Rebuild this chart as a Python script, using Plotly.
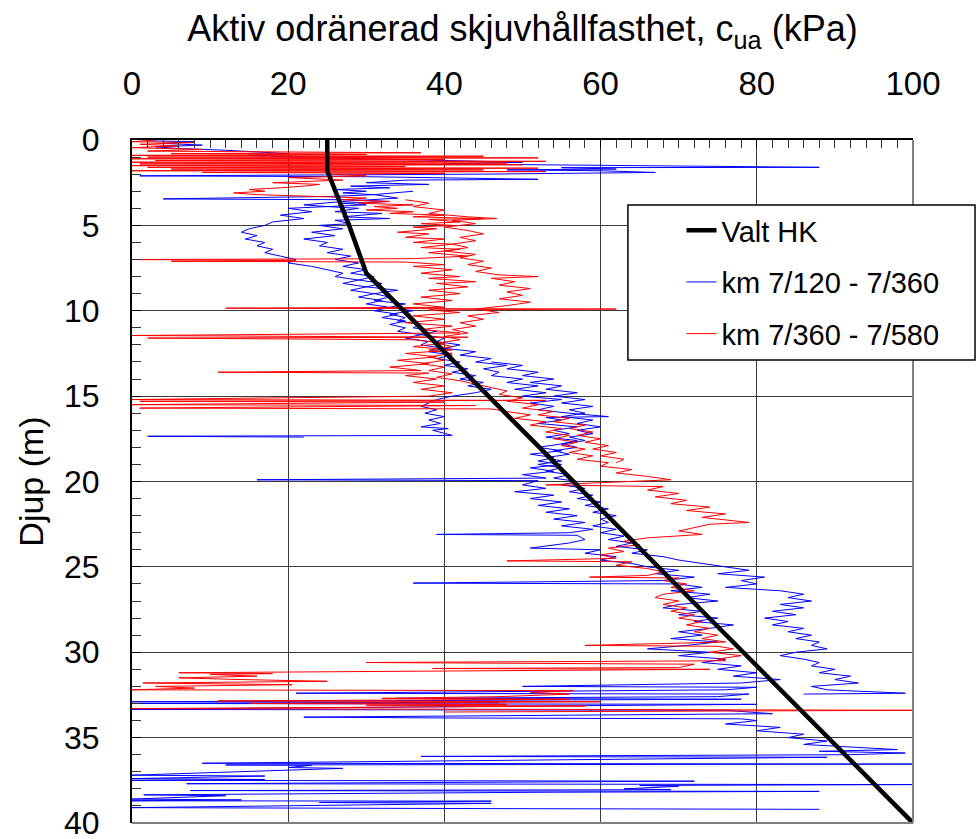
import plotly.graph_objects as go

# ---------------- data ----------------
# Chosen design line "Valt HK": depth (m) / c_ua (kPa)
hk_depth = [0, 1.8, 5.0, 7.8, 40]
hk_cua = [25, 25, 27.8, 30, 100]

# km 7/120 - 7/360 : three soundings, (depth m, c_ua kPa)
blue_a = [(0.05,2),(0.1,8),(0.2,4),(0.3,9),(0.4,3),(0.5,6),(0.6,12),(0.8,20),(0.9,15),(1.1,30),
          (1.3,50),(1.4,40),(1.6,88),(1.62,55),(1.7,62),(1.75,48),(1.8,60),(1.9,67),(2.0,45),(2.1,1),
          (2.15,30),(2.3,52),(2.35,35),(2.5,30),(2.6,38),(2.7,28),(2.8,33),(2.9,26),(3.0,30),(3.1,27),
          (3.2,31),(3.3,26),(3.45,4),(3.5,28),(3.6,33),(3.7,27),(3.8,30),(3.9,25),(4.0,29),(4.2,26),
          (4.3,32),(4.5,27),(4.6,33),(4.7,26),(4.9,28),(5.0,24),(5.2,27),(5.4,23),(5.6,26),(5.8,22),
          (6.0,25),(6.2,24),(6.4,27),(6.6,25),(6.8,28),(7.0,26),(7.2,29),(7.4,27),(7.6,30),(7.8,28),
          (8.0,31),(8.2,29),(8.4,32),(8.6,30),(8.8,34),(9.0,31),(9.2,33),(9.4,31),(9.6,35),(9.8,33),
          (10.0,36),(10.2,33),(10.4,35),(10.6,34),(10.8,37),(11.0,36),(11.2,39),(11.4,37),(11.6,40),(11.8,39),
          (12.0,42),(12.2,40),(12.4,44),(12.6,42),(12.8,46),(13.0,44),(13.2,48),(13.4,45),(13.6,47),(13.8,46),
          (14.0,50),(14.2,48),(14.4,52),(14.6,49),(14.8,53),(15.0,50),(15.2,55),(15.4,51),(15.6,54),(15.8,52),
          (16.0,56),(16.2,61),(16.25,53),(16.4,55),(16.6,52),(16.8,57),(17.0,54),(17.2,56),(17.4,53),(17.6,57),
          (17.8,55),(18.0,52),(18.2,55),(18.4,51),(18.6,54),(18.8,52),(19.0,55),(19.2,51),(19.4,54),(19.6,50),
          (19.8,53),(19.9,16),(19.95,52),(20.2,50),(20.4,53),(20.6,49),(20.8,54),(21.0,51),(21.2,55),(21.4,52),
          (21.6,56),(21.8,53),(22.0,57),(22.2,54),(22.4,58),(22.6,55),(22.8,59),(23.0,56),(23.1,39),(23.15,57),
          (23.4,58),(23.6,56),(23.9,51),(24.0,60),(24.2,58),(24.4,62),(24.6,60),(24.8,64),(25.0,66),(25.2,70),
          (25.4,67),(25.6,72),(25.8,68),(25.95,36),(26.0,70),(26.2,73),(26.4,69),(26.6,74),(26.8,71),(27.0,75),
          (27.2,70),(27.4,68),(27.6,73),(27.8,70),(28.0,75),(28.2,72),(28.4,77),(28.6,74),(28.8,70),(29.0,73),
          (29.2,69),(29.4,75),(29.6,71),(29.8,66),(30.0,74),(30.2,70),(30.4,76),(30.6,73),(30.8,78),(31.0,75),
          (31.2,80),(31.4,77),(31.6,83),(31.8,78),(32.0,50),(32.05,80),(32.2,76),(32.4,21),(32.45,79),(32.6,75),
          (32.7,34),(32.75,78),(32.9,0),(32.95,47),(33.0,0),(33.05,80),(33.3,10),(33.35,0),(33.4,76),(33.6,82),
          (33.8,22),(33.85,41),(33.9,78),(34.0,80),(34.2,76),(34.4,83),(34.6,80),(34.8,86),(35.0,84),(35.2,89),
          (35.4,86),(35.6,95),(35.7,98),(35.8,88),(35.9,99),(36.0,92),(36.1,37),(36.15,89),(36.5,9),(36.55,100),
          (36.6,12),(36.62,23),(36.75,20),(36.8,27),(37.2,0),(37.25,17),(37.4,0),(37.45,17),(37.5,0),(37.55,72),
          (37.7,7),(37.75,100),(37.8,65),(37.85,70),(38.0,63),(38.05,69),(38.1,7.5),(38.15,88),(38.2,52),(38.35,1.5),
          (38.4,12),(38.6,0),(38.65,14),(38.7,0),(38.72,46),(38.8,24),(38.85,46),(39.0,22),(39.1,0),(39.15,40),
          (39.2,88)]

blue_b = [(3.0,36),(3.2,31),(3.4,34),(3.6,27),(3.8,22),(3.9,25),(4.0,20),(4.2,23),(4.4,19),(4.6,22),
          (4.8,18),(5.0,17),(5.2,15),(5.4,14),(5.6,16),(5.8,14.5),(6.0,17),(6.2,16),(6.4,18),(6.6,17),
          (6.8,19),(7.0,21),(7.2,20),(7.4,23),(7.6,25),(7.8,27),(8.0,26),(8.2,29),(8.4,27),(8.6,30),
          (8.8,28),(9.0,31),(9.2,29),(9.4,32),(9.6,30),(9.8,33),(10.0,31),(10.2,34),(10.4,32),(10.6,35),
          (10.8,33),(11.0,35),(11.2,34),(11.4,37),(11.6,35),(11.8,38),(12.0,37),(12.2,40),(12.4,38),(12.6,41),
          (12.8,39),(13.0,42),(13.2,40),(13.4,43),(13.6,41),(13.8,44),(14.0,42),(14.2,45),(14.4,43),(14.6,46),
          (14.8,44),(15.0,41),(15.2,39),(15.4,38),(15.6,37),(15.8,39),(16.0,37.5),(16.2,40),(16.4,38),(16.6,39.5),
          (16.8,37),(16.9,40.5),(17.0,38.5),(17.3,41),(17.35,2),(17.4,22)]

blue_c = [(13.0,46),(13.2,50),(13.4,48),(13.6,52),(13.8,50),(14.0,54),(14.2,51),(14.4,55),(14.6,53),(14.8,57),
          (15.0,54),(15.2,58),(15.4,55),(15.6,59),(15.8,56),(16.0,58),(16.2,55),(16.4,59),(16.6,57),(16.8,60),
          (17.0,57),(17.2,59),(17.4,56),(17.6,58),(17.8,55),(18.0,57),(18.2,54),(18.4,56),(18.6,53),(18.8,55),
          (19.0,52),(19.2,55),(19.4,53),(19.6,56),(19.8,54),(20.0,57),(20.2,55),(20.4,58),(20.6,56),(20.8,59),
          (21.0,57),(21.2,60),(21.4,58),(21.6,61),(21.8,59),(22.0,62),(22.2,60),(22.4,61),(22.6,59),(22.8,62),
          (23.0,60),(23.2,63),(23.4,61),(23.6,64),(23.8,62),(24.0,66),(24.2,64),(24.4,68),(24.6,70),(24.8,73),
          (25.0,76),(25.2,79),(25.4,75),(25.6,81),(25.8,78),(26.0,80),(26.2,76),(26.4,83),(26.6,86),(26.8,84),
          (27.0,87),(27.2,83),(27.4,86),(27.6,82),(27.8,85),(28.0,81),(28.2,84),(28.4,82),(28.6,86),(28.8,84),
          (29.0,87),(29.2,85),(29.4,88),(29.6,87),(29.8,89),(30.0,85),(30.2,83),(30.4,86),(30.6,88),(30.8,87),
          (31.0,90),(31.2,88),(31.4,92),(31.6,90),(31.8,93),(32.0,87),(32.2,89),(32.4,99),(32.45,86)]

# km 7/360 - 7/580 : two soundings
red_a = [(0.0,3),(0.1,0),(0.15,8),(0.25,1),(0.35,6),(0.45,0),(0.55,9),(0.65,2),(0.75,37),(0.8,5),
         (0.85,30),(0.9,0),(0.95,45),(1.0,2),(1.05,52),(1.1,0),(1.15,40),(1.2,3),(1.25,53),(1.3,0),
         (1.35,48),(1.4,1),(1.45,50),(1.5,0),(1.55,35),(1.6,2),(1.65,52),(1.7,5),(1.75,45),(1.8,0),
         (1.85,53),(1.9,9),(1.95,40),(2.0,25),(2.1,30),(2.2,20),(2.35,27),(2.5,18),(2.6,24),(2.7,22),
         (2.8,19),(2.9,15),(3.0,17),(3.1,13),(3.2,16),(3.3,22),(3.4,30),(3.5,27),(3.6,33),(3.7,29),
         (3.8,36),(3.9,31),(4.0,34),(4.1,30),(4.2,36),(4.3,33),(4.4,40),(4.5,36),(4.6,45),(4.65,38),
         (4.8,42),(4.9,37),(5.0,41),(5.1,36),(5.2,39),(5.4,34),(5.5,38),(5.7,35),(5.8,40),(6.0,36),
         (6.1,41),(6.3,37),(6.4,42),(6.6,38),(6.8,43),(6.95,36),(7.0,0),(7.05,21),(7.1,5),(7.15,35),
         (7.3,40),(7.4,36),(7.6,41),(7.8,37),(8.0,42),(8.1,38),(8.3,44),(8.4,39),(8.6,43),(8.8,38),
         (9.0,42),(9.2,37),(9.4,41),(9.6,36),(9.8,40),(9.85,12),(9.9,62),(9.95,38),(10.1,42),(10.3,36),
         (10.5,40),(10.7,35),(10.9,41),(11.1,37),(11.3,42),(11.45,0),(11.5,28),(11.55,43),(11.6,2),(11.65,20),
         (11.7,36),(11.9,40),(12.1,36),(12.3,41),(12.5,35),(12.7,39),(12.9,34),(13.1,38),(13.3,33),(13.5,37),
         (13.6,11),(13.65,38),(13.8,35),(14.0,39),(14.2,36),(14.4,40),(14.6,37),(14.8,41),(15.0,38),(15.2,0),
         (15.25,53),(15.3,1),(15.35,40),(15.5,0),(15.55,44),(15.7,1),(15.75,46),(15.9,48),(16.1,51),(16.3,49),
         (16.5,53),(16.7,51),(16.9,55),(17.1,53),(17.3,56),(17.5,54),(17.7,57),(17.9,55),(18.1,58),(18.3,56),
         (18.5,59),(18.7,57),(18.9,61),(19.1,60),(19.3,64),(19.5,62),(19.7,66),(19.9,69),(20.0,64),(20.2,53),
         (20.3,68),(20.5,66),(20.7,70),(20.9,67),(21.1,71),(21.3,69),(21.5,74),(21.7,71),(21.9,76),(22.1,73),
         (22.3,77),(22.4,79),(22.5,74),(22.7,72),(22.9,70),(23.1,73),(23.3,66),(23.5,63),(23.7,65),(23.9,61),
         (24.1,63),(24.3,60),(24.5,62),(24.65,48),(24.7,64),(24.9,62),(25.1,66),(25.3,68),(25.5,66),(25.6,58.6),
         (25.65,70),(25.8,68),(26.0,71),(26.2,69),(26.4,72),(26.6,68),(26.8,67),(27.0,70),(27.2,68),(27.4,71),
         (27.6,69),(27.8,72),(28.0,70),(28.2,73),(28.4,71),(28.6,74),(28.8,72),(29.0,75),(29.2,73),(29.4,76),
         (29.6,58),(29.65,75),(29.8,77),(30.0,74),(30.2,78),(30.4,75),(30.5,76),(30.6,30),(30.7,72),(30.9,70),
         (30.95,38.5),(31.0,74),(31.15,21.5),(31.2,6),(31.25,18),(31.3,10),(31.4,16),(31.5,6),(31.6,14),(31.7,25),
         (31.8,1.4),(31.9,20.5),(32.0,3),(32.1,8),(32.2,0),(32.25,56.5),(32.35,51),(32.45,56),(32.6,47),(32.7,32),
         (32.75,56),(32.85,11),(32.9,60),(33.0,15),(33.05,48),(33.1,30),(33.15,58),(33.3,0),(33.35,58),(33.4,100),
         (33.45,71),(33.5,40)]

red_b = [(3.5,35),(3.7,38),(3.9,36),(4.1,40),(4.3,38),(4.5,43),(4.6,46.7),(4.7,41),(4.9,44),(5.1,40),
         (5.3,43),(5.5,45),(5.7,42),(5.9,44),(6.1,41),(6.3,43),(6.5,40),(6.7,44),(6.9,42),(7.1,45),
         (7.3,43),(7.5,46),(7.7,44),(7.9,47),(8.0,52),(8.1,46),(8.3,49),(8.5,47),(8.7,51),(8.9,48),
         (9.1,50),(9.3,47),(9.5,51),(9.7,48),(9.9,44),(10.1,47),(10.3,43),(10.5,45),(10.7,42),(10.9,44),
         (11.1,41),(11.3,43),(11.5,40),(11.7,42),(11.9,39),(12.1,41),(12.3,38),(12.5,41),(12.7,38),(12.9,40),
         (13.1,37),(13.3,40),(13.5,38),(13.7,41),(13.9,39),(14.1,42),(14.3,44),(14.5,46),(14.7,48),(14.9,47),
         (15.1,50),(15.3,48),(15.5,52),(15.7,50),(15.9,54),(16.1,52),(16.3,56),(16.5,54),(16.7,58),(16.9,56),
         (17.1,59),(17.3,57),(17.5,60),(17.7,58),(17.9,61),(18.1,59),(18.3,62),(18.5,60),(18.7,63),(18.9,62)]

blue_soundings = [blue_a, blue_b, blue_c]
red_soundings = [red_a, red_b]


def join(soundings):
    xs, ys = [], []
    for s in soundings:
        for d, v in s:
            xs.append(v)
            ys.append(d)
        xs.append(None)
        ys.append(None)
    return xs, ys


FONT = "Liberation Sans, Arial, sans-serif"

fig = go.Figure()
bx, by = join(blue_soundings)
rx, ry = join(red_soundings)
fig.add_trace(go.Scatter(x=bx, y=by, mode="lines", name="km 7/120 - 7/360",
                         line=dict(color="#0000FF", width=1), connectgaps=False,
                         legendrank=2, legendgroup="b"))
fig.add_trace(go.Scatter(x=rx, y=ry, mode="lines", name="km 7/360 - 7/580",
                         line=dict(color="#FF0000", width=1), connectgaps=False,
                         legendrank=3, legendgroup="r"))
fig.add_trace(go.Scatter(x=hk_cua, y=hk_depth, mode="lines", name="Valt HK",
                         line=dict(color="black", width=4.5), legendrank=1, legendgroup="h"))

fig.update_layout(
    width=977, height=839,
    margin=dict(l=132, r=64, t=140, b=16, autoexpand=False),
    paper_bgcolor="white", plot_bgcolor="white",
    font=dict(family=FONT, color="black"),
    showlegend=True,
    legend=dict(x=0.637, y=0.905, xanchor="left", yanchor="top",
                bgcolor="rgba(0,0,0,0)", borderwidth=0,
                font=dict(size=29, family=FONT), tracegroupgap=11,
                traceorder="grouped", indentation=52),
    xaxis=dict(side="top", range=[0, 100], tickvals=[0, 20, 40, 60, 80, 100],
               tickfont=dict(size=33), showgrid=True, gridcolor="#3a3a3a", gridwidth=1,
               zeroline=False, showline=True, linecolor="black", linewidth=2,
               ticks="inside", ticklen=8, tickcolor="black", ticklabelstandoff=30,
               ticklabeloverflow="allow",
               minor=dict(dtick=2, ticks="inside", ticklen=8, tickcolor="#333333", showgrid=False),
               title=dict(text="Aktiv odränerad skjuvhållfasthet, c<sub>ua</sub> (kPa)",
                          font=dict(size=36), standoff=12),
               automargin=False),
    yaxis=dict(range=[40, 0], tickvals=[0, 5, 10, 15, 20, 25, 30, 35, 40],
               tickfont=dict(size=32), showgrid=True, gridcolor="#3a3a3a", gridwidth=1,
               zeroline=False, showline=True, linecolor="black", linewidth=2,
               ticks="inside", ticklen=9, tickcolor="black", ticklabelstandoff=24,
               ticklabeloverflow="allow",
               minor=dict(dtick=1, ticks="inside", ticklen=9, tickcolor="#333333", showgrid=False),
               title=dict(text="Djup (m)", font=dict(size=34), standoff=10),
               automargin=False),
    shapes=[
        dict(type="line", xref="paper", yref="paper", x0=1, x1=1, y0=0, y1=1,
             line=dict(color="#808080", width=2)),
        dict(type="line", xref="paper", yref="paper", x0=0, x1=1, y0=0, y1=0,
             line=dict(color="#808080", width=2)),
        # legend frame
        dict(type="rect", xref="paper", yref="paper", x0=0.635, x1=1.0794, y0=0.678, y1=0.905,
             line=dict(color="black", width=1.5), fillcolor="white", layer="above"),
    ],
)

fig.write_html("out.html")
